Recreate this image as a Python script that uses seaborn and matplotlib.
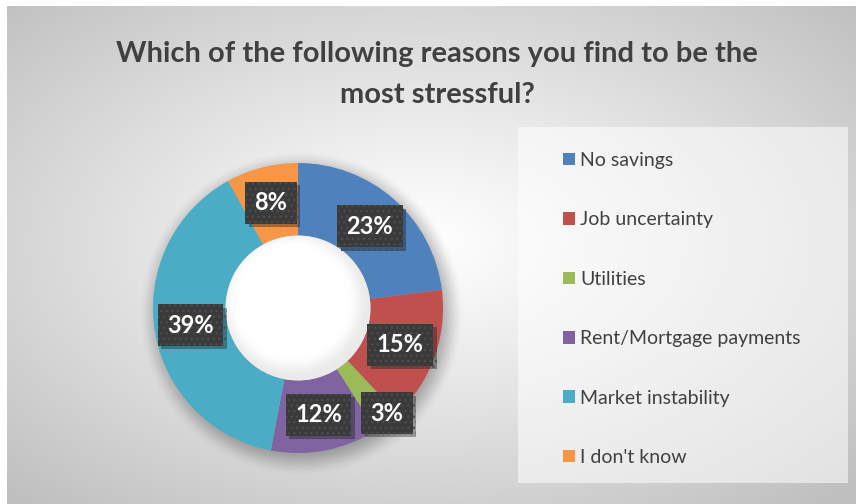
import numpy as np
import matplotlib
matplotlib.use("Agg")
import matplotlib.pyplot as plt
import seaborn as sns
from matplotlib.patches import Patch, Rectangle, Circle
from matplotlib import patheffects as pe

# Survey answers (percent of respondents)
categories = ["No savings", "Job uncertainty", "Utilities",
              "Rent/Mortgage payments", "Market instability", "I don't know"]
shares = [23, 15, 3, 12, 39, 8]
title_lines = ["Which of the following reasons you find to be the",
               "most stressful?"]

palette = sns.color_palette(["#4F81BD", "#C0504D", "#9BBB59",
                             "#8064A2", "#4BACC6", "#F79646"])

sns.set_theme(style="white")
plt.rcParams["font.family"] = ["Lato", "DejaVu Sans"]
plt.rcParams["hatch.linewidth"] = 1.0

W, H = 856, 504
fig = plt.figure(figsize=(W / 100, H / 100), dpi=100)
fig.patch.set_facecolor("white")


def smoothstep(a, b, v):
    t = np.clip((v - a) / (b - a), 0, 1)
    return t * t * (3 - 2 * t)


# chart area: radial gradient from white in the middle to grey at the edges
left_px, top_px = 7, 6
bg = fig.add_axes([left_px / W, 0, 1 - left_px / W, 1 - top_px / H], zorder=0)
gx, gy = np.meshgrid(np.linspace(-1, 1, 400), np.linspace(-1, 1, 240))
dist = np.sqrt((gx + 0.02) ** 2 + (gy - 0.05) ** 2) / np.sqrt(2)
val = 1 - 0.25 * np.clip(dist, 0, 1) ** 1.1
bg.imshow(np.dstack([val] * 3), extent=[0, 1, 0, 1], aspect="auto", origin="lower")
bg.set_axis_off()

# doughnut axes, sized so the outer radius is 145 px
cx, cy, R = 298, 308, 145
L = 1.25
side = 2 * L * R
ax = fig.add_axes([(cx - side / 2) / W, (H - cy - side / 2) / H, side / W, side / H],
                  zorder=2)
ax.patch.set_alpha(0)

n = 500
u = np.linspace(-L, L, n)
X, Y = np.meshgrid(u, u)

# soft drop shadow under the ring
r_sh = np.hypot(X - 0.02, Y + 0.04)
sh = np.zeros((n, n, 4))
sh[..., 3] = 0.30 * (1 - smoothstep(0.93, 1.13, r_sh))
ax.imshow(sh, extent=[-L, L, -L, L], origin="lower", zorder=0, interpolation="bilinear")

wedges, _ = ax.pie(shares, colors=palette, startangle=90, counterclock=False,
                   radius=1, wedgeprops=dict(width=0.5, linewidth=0))
for w in wedges:
    w.set_zorder(1)

# white hole with a faint inner shadow
r_in = np.hypot(X + 0.04, Y - 0.04)
hv = 1 - 0.08 * smoothstep(0.38, 0.52, r_in)
hole = ax.imshow(np.dstack([hv] * 3), extent=[-L, L, -L, L], origin="lower",
                 zorder=2, interpolation="bilinear")
hole.set_clip_path(Circle((0, 0), 0.5, transform=ax.transData))

ax.set_xlim(-L, L)
ax.set_ylim(-L, L)
ax.set_axis_off()

# data labels in dark dotted boxes
nudge = {"Utilities": (0.95, 2.5)}  # (radius, extra degrees) for the thin slice
for w, name, s in zip(wedges, categories, shares):
    r_lab, dang = nudge.get(name, (0.75, 0.0))
    ang = np.deg2rad((w.theta1 + w.theta2) / 2 + dang)
    t = ax.text(r_lab * np.cos(ang), r_lab * np.sin(ang), f"{s}%",
                ha="center", va="center", fontsize=17, fontweight="bold",
                color="white", zorder=5,
                bbox=dict(boxstyle="square,pad=0.4", facecolor="#3a3a3a",
                          edgecolor="#4c4c4c", hatch="...", linewidth=0))
    t.get_bbox_patch().set_path_effects(
        [pe.SimplePatchShadow(offset=(2.5, -2.5), alpha=0.35), pe.Normal()])

# legend panel
fig.add_artist(Rectangle((518 / W, 21 / H), 330 / W, 356 / H,
                         transform=fig.transFigure, facecolor="white",
                         alpha=0.55, linewidth=0, zorder=1))
handles = [Patch(facecolor=c, label=lab, linewidth=0)
           for c, lab in zip(palette, categories)]
leg = fig.legend(handles=handles, loc="upper left",
                 bbox_to_anchor=(563 / W, 1 - 152 / H), frameon=False,
                 fontsize=14, labelspacing=2.18, handlelength=0.62,
                 handleheight=0.62, handletextpad=0.28, borderpad=0,
                 borderaxespad=0, labelcolor="#404040")
leg.set_zorder(3)

# title
for line, base_px in zip(title_lines, [62, 103]):
    fig.text(437 / W, 1 - base_px / H, line, ha="center", va="baseline",
             fontsize=21, fontweight="bold", color="#404040", zorder=4)

fig.savefig("out.png", dpi=100)
